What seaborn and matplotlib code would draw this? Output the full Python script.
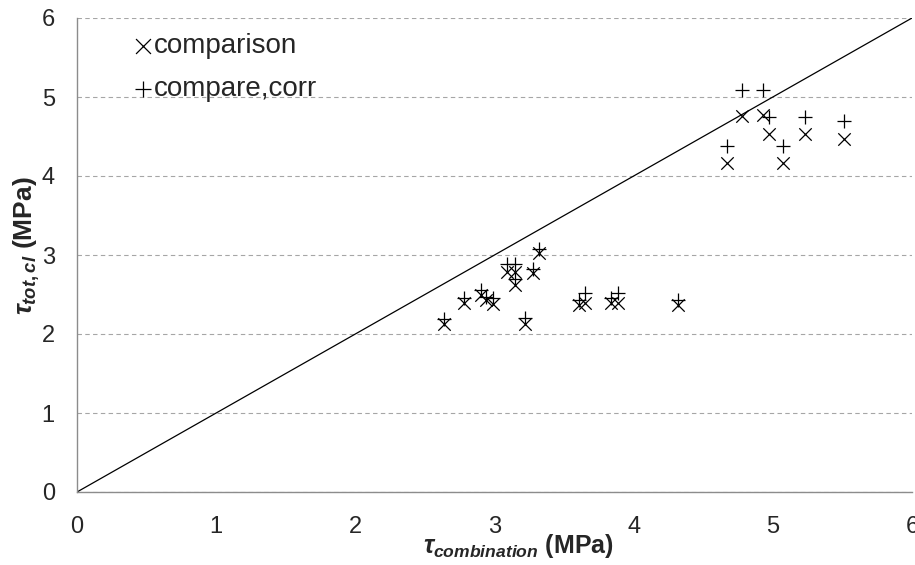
import matplotlib
matplotlib.use("Agg")
import matplotlib.pyplot as plt
import seaborn as sns
import pandas as pd

# --- data ---
tau_combination = [2.64, 2.78, 2.90, 2.94, 2.99, 3.09, 3.15, 3.15, 3.22, 3.28, 3.32,
                   3.61, 3.65, 3.84, 3.89, 4.32,
                   4.67, 4.78, 4.93, 4.97, 5.07, 5.23, 5.51]
tau_comparison = [2.13, 2.39, 2.49, 2.43, 2.38, 2.79, 2.79, 2.62, 2.13, 2.77, 3.02,
                  2.37, 2.39, 2.39, 2.39, 2.37,
                  4.16, 4.76, 4.77, 4.53, 4.16, 4.53, 4.47]
tau_compare_corr = [2.19, 2.45, 2.56, 2.47, 2.45, 2.89, 2.89, 2.69, 2.20, 2.82, 3.08,
                    2.43, 2.52, 2.45, 2.52, 2.43,
                    4.38, 5.09, 5.09, 4.75, 4.38, 4.75, 4.70]
equality_line = [0, 6]
axis_ticks = [0, 1, 2, 3, 4, 5, 6]

df = pd.DataFrame({'x': tau_combination,
                   'comparison': tau_comparison,
                   'compare_corr': tau_compare_corr})

# --- style ---
sns.set_style('white')
plt.rcParams['font.family'] = ['Liberation Sans', 'DejaVu Sans']
plt.rcParams['mathtext.fontset'] = 'custom'
plt.rcParams['mathtext.it'] = 'Liberation Sans:italic:bold'
plt.rcParams['mathtext.bf'] = 'Liberation Sans:italic:bold'
plt.rcParams['mathtext.rm'] = 'Liberation Sans:bold'

fig = plt.figure(figsize=(9.15, 5.65), dpi=100)
ax = fig.add_axes([77 / 915, 73 / 565, 835 / 915, 474 / 565])

# 1:1 line
sns.lineplot(x=equality_line, y=equality_line, ax=ax, color='black', linewidth=0.9)

sns.scatterplot(data=df, x='x', y='comparison', ax=ax, marker='x', color='black',
                s=80, linewidth=0.9, label='comparison', zorder=3)
sns.scatterplot(data=df, x='x', y='compare_corr', ax=ax, marker='+', color='black',
                s=95, linewidth=0.9, label='compare,corr', zorder=3)

ax.set_xlim(0, 6)
ax.set_ylim(0, 6)
ax.set_xticks(axis_ticks)
ax.set_yticks(axis_ticks)
ax.tick_params(axis='both', length=0, labelsize=17, pad=16)
ax.tick_params(axis='x', pad=17)

ax.yaxis.grid(True, linestyle=(0, (4, 3)), color='#a6a6a6', linewidth=0.8)
ax.xaxis.grid(False)
for side in ['top', 'right']:
    ax.spines[side].set_visible(False)
for side in ['left', 'bottom']:
    ax.spines[side].set_color('#8c8c8c')
    ax.spines[side].set_linewidth(1.0)

ax.set_xlabel(r'$\tau_{combination}$ (MPa)', fontsize=18, fontweight='bold')
ax.set_ylabel(r'$\tau_{tot,cl}$ (MPa)', fontsize=19, fontweight='bold')
ax.xaxis.set_label_coords(0.528, -0.084)
ax.yaxis.set_label_coords(-0.042, 0.52)

ax.legend(loc='upper left', bbox_to_anchor=(0.069, 0.968), frameon=False,
          fontsize=20, handlelength=0.6, handletextpad=0.1, labelspacing=0.62,
          borderpad=0, borderaxespad=0, markerscale=1.2)

plt.savefig('out.png', dpi=100)
